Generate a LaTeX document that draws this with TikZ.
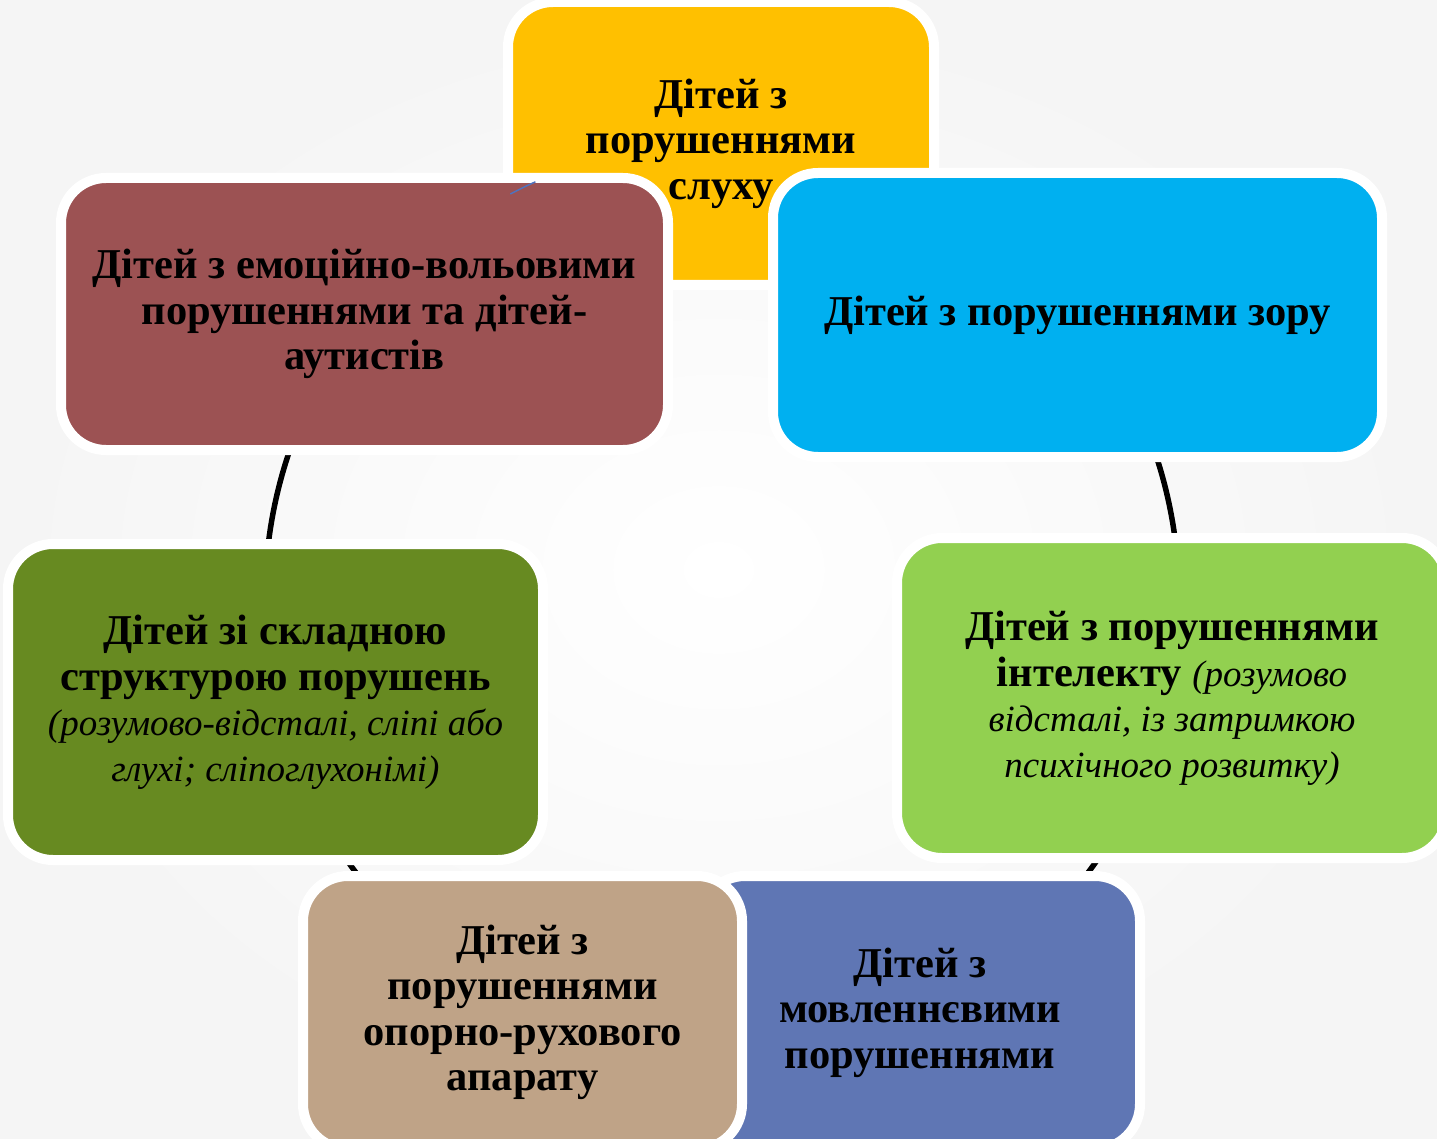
\documentclass[tikz,border=0pt]{standalone}
\usepackage{fontspec}
\setmainfont{Liberation Serif}
\definecolor{cyellow}{HTML}{FFC000}
\definecolor{cblue}{HTML}{00B0F0}
\definecolor{clgreen}{HTML}{92D050}
\definecolor{cpurple}{HTML}{5F76B4}
\definecolor{ctan}{HTML}{BFA387}
\definecolor{cdgreen}{HTML}{678A21}
\definecolor{cred}{HTML}{9C5253}
\definecolor{cthin}{HTML}{4F73BE}
\newcommand{\itpart}[1]{{\mdseries\itshape\fontsize{37}{45.5}\selectfont #1}}
\begin{document}
\begin{tikzpicture}[x=1pt,y=-1pt,
  box/.style={rounded corners=45pt, draw=white, line width=10pt, inner sep=0pt,
    outer sep=0pt, align=center, font=\fontsize{42.5}{45.5}\selectfont\bfseries},
  ring/.style={line width=5.5pt, black},
  thinarc/.style={line width=1.5pt, cthin}]
\useasboundingbox (0,0) rectangle (1437,1139);
\shade[inner color=white, outer color=black!4] (0,0) rectangle (1437,1139);
\coordinate (ctr) at (722,599);
\draw[ring] (ctr) circle[radius=457];
\node[box, fill=cyellow, minimum width=426pt, minimum height=283pt] (hear) at (721,143.5)
  {Дітей з\\порушеннями\\слуху};
\node[box, fill=cblue, minimum width=609pt, minimum height=284pt] (sight) at (1077.5,315)
  {Дітей з порушеннями зору};
\node[box, fill=cred, minimum width=607pt, minimum height=272pt] (emo) at (364.5,314)
  {Дітей з емоційно-вольовими\\порушеннями та дітей-\\аутистів};
\node[box, fill=clgreen, minimum width=550pt, minimum height=320pt] (intel) at (1172,698)
  {Дітей з порушеннями\\інтелекту \itpart{(розумово}\\\itpart{відсталі, із затримкою}\\\itpart{психічного розвитку)}};
\node[box, fill=cdgreen, minimum width=535pt, minimum height=316pt] (complex) at (275.5,702)
  {Дітей зі складною\\структурою порушень\\\itpart{(розумово-відсталі, сліпі або}\\\itpart{глухі; сліпоглухонімі)}};
\node[box, fill=cpurple, minimum width=440pt, minimum height=273pt] (speech) at (920,1012.5)
  {Дітей з\\мовленнєвими\\порушеннями};
\node[box, fill=ctan, minimum width=439pt, minimum height=273pt] (motor) at (522.5,1012.5)
  {Дітей з\\порушеннями\\опорно-рухового\\апарату};
\draw[thinarc] (ctr) ++(-117.6:457) arc[start angle=-117.6, end angle=-114.1, radius=457];
\end{tikzpicture}
\end{document}
